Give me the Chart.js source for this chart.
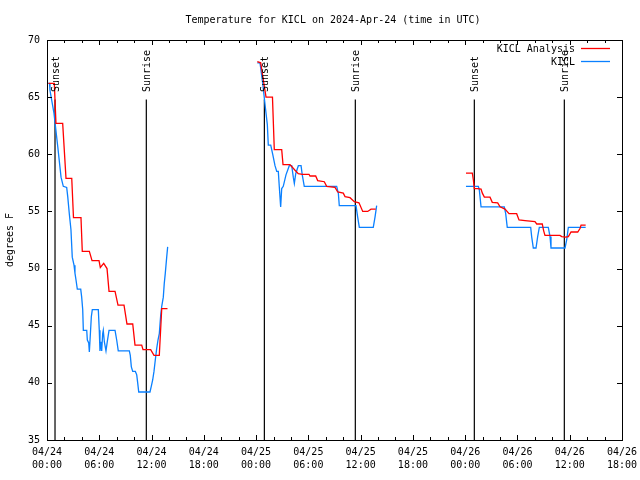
<!DOCTYPE html>
<html lang="en">
<head>
<meta charset="UTF-8" />
<title>KICL temperature</title>
<script src="https://cdn.jsdelivr.net/npm/chart.js@4.4.1/dist/chart.umd.min.js"></script>
<style>
  html, body { margin: 0; padding: 0; background: #fff; }
</style>
</head>
<body>
<canvas id="tempChart" width="640" height="480"></canvas>
<script>
// hours since 04/24 00:00 UTC, null = gap between days
const analysisHours = [
  0.17, 0.84, 1.03, 1.80, 2.18, 2.84, 3.04, 3.90, 4.05, 4.86, 5.17, 5.97, 6.12, 6.51, 6.89,
  7.12, 7.81, 8.15, 8.84, 9.18, 9.84, 10.10, 10.87, 11.02, 11.90, 12.28, 12.89, 13.17, 13.83,
  null,
  24.14, 24.53, 24.79, 25.14, 25.88, 26.09, 26.94, 27.09, 27.89, 28.47, 28.84, 29.30, 30.07, 30.19, 30.84,
  31.07, 31.83, 32.10, 33.06, 33.37, 34.01, 34.21, 34.78, 35.27, 35.81, 36.24, 36.81, 37.19, 37.73,
  null,
  48.09, 48.82, 48.94, 49.05, 49.44, 49.82, 49.97, 50.20, 50.85, 51.11, 51.73, 52.00, 52.57, 53.03, 53.91,
  54.18, 54.87, 56.01, 56.21, 56.85, 57.01, 57.16, 58.88, 59.08, 59.54, 59.84, 60.15, 60.92, 61.18, 61.30, 61.83
];
const analysisTemps = [
  66.2, 66.2, 62.7, 62.7, 57.9, 57.9, 54.45, 54.45, 51.5, 51.5, 50.7, 50.7, 50.1, 50.45, 50.0,
  48.0, 48.0, 46.8, 46.8, 45.15, 45.15, 43.3, 43.3, 42.9, 42.9, 42.4, 42.4, 46.5, 46.5,
  null,
  68.1, 68.0, 66.7, 65.0, 65.0, 60.4, 60.4, 59.1, 59.1, 58.6, 58.3, 58.25, 58.25, 58.1, 58.1,
  57.7, 57.6, 57.2, 57.1, 56.7, 56.6, 56.3, 56.2, 55.85, 55.75, 55.0, 55.0, 55.2, 55.2,
  null,
  58.35, 58.35, 57.75, 57.0, 57.0, 56.95, 56.6, 56.25, 56.25, 55.8, 55.75, 55.4, 55.2, 54.8, 54.8,
  54.25, 54.2, 54.1, 53.9, 53.9, 53.3, 52.9, 52.9, 52.8, 52.75, 52.8, 53.2, 53.2, 53.5, 53.8, 53.8
];

const obsHours = [
  0.15, 0.29, 0.34, 0.80, 1.23, 1.61, 1.87, 2.26, 2.38, 2.56, 2.75, 2.90, 3.10, 3.21, 3.33, 3.48,
  3.87, 3.98, 4.10, 4.17, 4.56, 4.63, 4.79, 4.86, 4.94, 5.09, 5.20, 5.89, 6.00, 6.08, 6.20, 6.28,
  6.39, 6.46, 6.58, 6.77, 6.92, 7.12, 7.81, 8.00, 8.18, 9.45, 9.56, 9.68, 9.84, 10.14, 10.30, 10.41,
  10.53, 11.82, 11.97, 12.13, 12.28, 12.43, 12.59, 12.74, 12.89, 13.05, 13.17, 13.35, 13.46, 13.58, 13.74, 13.85,
  null,
  24.14, 24.45, 24.76, 25.02, 25.29, 25.40, 25.68, 25.91, 26.17, 26.37, 26.55, 26.66, 26.82, 26.94, 27.12,
  27.43, 27.81, 28.09, 28.27, 28.39, 28.55, 28.85, 29.16, 29.30, 29.53, 33.25, 33.44, 33.55, 35.47, 35.66,
  35.85, 37.45, 37.65, 37.84,
  null,
  48.09, 49.51, 49.62, 49.82, 52.49, 52.65, 52.83, 55.52, 55.63, 55.82, 56.13, 56.32, 56.51, 57.54, 57.74,
  57.85, 59.46, 59.65, 59.84, 61.83
];
const obsTemps = [
  66.2, 66.2, 65.6, 63.6, 60.7, 58.0, 57.2, 57.1, 56.3, 54.8, 53.4, 51.0, 50.3, 49.6, 49.0, 48.2,
  48.2, 47.5, 46.4, 44.6, 44.6, 43.75, 43.5, 42.7, 43.75, 45.8, 46.4, 46.4, 44.6, 42.8, 43.6, 42.8,
  44.3, 44.6, 43.6, 42.8, 43.6, 44.6, 44.6, 43.75, 42.8, 42.8, 42.4, 41.4, 41.0, 41.0, 40.7, 40.0,
  39.2, 39.2, 39.7, 40.25, 41.0, 42.0, 43.0, 43.75, 44.3, 45.9, 46.7, 47.5, 48.7, 49.6, 51.0, 51.9,
  null,
  68.0, 68.0, 66.2, 64.4, 62.6, 60.8, 60.8, 60.0, 59.0, 58.5, 58.5, 57.2, 55.4, 57.0, 57.2,
  58.2, 59.0, 59.0, 58.0, 57.45, 58.3, 59.0, 59.0, 58.2, 57.2, 57.2, 56.6, 55.5, 55.5, 54.5,
  53.6, 53.6, 54.5, 55.5,
  null,
  57.2, 57.2, 56.9, 55.4, 55.4, 54.8, 53.6, 53.6, 52.8, 51.8, 51.8, 52.8, 53.6, 53.6, 52.8,
  51.8, 51.8, 52.5, 53.6, 53.6
];

const sunHours = [0.92, 11.40, 24.95, 35.39, 49.05, 59.38];
const sunLabels = ['Sunset', 'Sunrise', 'Sunset', 'Sunrise', 'Sunset', 'Sunrise'];
const sunLineTop = 64.8;

const FONT = '10px "DejaVu Sans Mono"';

function toPoints(hours, temps) {
  return hours.map((h, i) => ({ x: h, y: temps[i] }));
}

const sunPoints = [];
sunHours.forEach(h => {
  sunPoints.push({ x: h, y: 35 }, { x: h, y: sunLineTop }, { x: null, y: null });
});

const gnuplotLook = {
  id: 'gnuplotLook',
  afterDatasetsDraw(chart) {
    const ctx = chart.ctx, xs = chart.scales.x;
    ctx.save();
    ctx.fillStyle = '#000';
    ctx.font = FONT;
    ctx.textAlign = 'left';
    ctx.textBaseline = 'middle';
    sunHours.forEach((h, i) => {
      ctx.save();
      ctx.translate(Math.round(xs.getPixelForValue(h)) + 1.5, 92);
      ctx.rotate(-Math.PI / 2);
      ctx.fillText(sunLabels[i], 0, 0);
      ctx.restore();
    });
    ctx.restore();
  },
  afterDraw(chart) {
    const ctx = chart.ctx, a = chart.chartArea;
    const xs = chart.scales.x, ys = chart.scales.y;
    ctx.save();
    ctx.strokeStyle = '#000';
    ctx.lineWidth = 1;
    ctx.strokeRect(a.left + 0.5, a.top + 0.5, a.right - a.left, a.bottom - a.top);

    ctx.beginPath();
    for (let h = 0; h <= 66; h += 2) {
      const px = Math.round(xs.getPixelForValue(h)) + 0.5;
      const len = h % 6 === 0 ? 5 : 3;
      ctx.moveTo(px, a.bottom); ctx.lineTo(px, a.bottom - len);
      ctx.moveTo(px, a.top); ctx.lineTo(px, a.top + len);
    }
    for (let v = 35; v <= 70; v += 5) {
      const py = Math.round(ys.getPixelForValue(v)) + 0.5;
      ctx.moveTo(a.left, py); ctx.lineTo(a.left + 5, py);
      ctx.moveTo(a.right, py); ctx.lineTo(a.right - 5, py);
    }
    ctx.stroke();

    ctx.fillStyle = '#000';
    ctx.font = FONT;
    ctx.textAlign = 'center';
    ctx.textBaseline = 'middle';
    ctx.fillText('Temperature for KICL on 2024-Apr-24 (time in UTC)', 333, 20);

    ctx.save();
    ctx.translate(10, 240);
    ctx.rotate(-Math.PI / 2);
    ctx.fillText('degrees F', 0, 0);
    ctx.restore();

    // legend
    const items = [['KICL Analysis', '#ff0000', 49], ['KICL', '#0a80ff', 62]];
    ctx.textAlign = 'right';
    items.forEach(([txt, col, y]) => {
      ctx.fillStyle = '#000';
      ctx.fillText(txt, 575, y);
      ctx.strokeStyle = col;
      ctx.lineWidth = 1.3;
      ctx.beginPath();
      ctx.moveTo(581, y - 0.5);
      ctx.lineTo(610, y - 0.5);
      ctx.stroke();
    });
    ctx.restore();
  }
};

new Chart(document.getElementById('tempChart'), {
  type: 'line',
  data: {
    datasets: [
      { label: 'KICL Analysis', data: toPoints(analysisHours, analysisTemps), borderColor: '#ff0000',
        borderWidth: 1.3, pointRadius: 0, tension: 0, spanGaps: false, order: 1 },
      { label: 'KICL', data: toPoints(obsHours, obsTemps), borderColor: '#0a80ff',
        borderWidth: 1.3, pointRadius: 0, tension: 0, spanGaps: false, order: 2 },
      { label: 'sun', data: sunPoints, borderColor: '#000', borderWidth: 1.2,
        pointRadius: 0, spanGaps: false, order: 3 }
    ]
  },
  options: {
    responsive: false,
    animation: false,
    layout: { padding: { top: 40, right: 18, left: 0, bottom: 0 } },
    plugins: { legend: { display: false }, tooltip: { enabled: false } },
    scales: {
      x: {
        type: 'linear', min: 0, max: 66,
        grid: { display: false, drawTicks: false },
        border: { display: false },
        afterFit(s) { s.height = 40; s.paddingLeft = 0; s.paddingRight = 0; },
        ticks: {
          stepSize: 6, autoSkip: false, maxRotation: 0, padding: 6, color: '#000',
          font: { family: 'DejaVu Sans Mono', size: 10, lineHeight: 1.3 },
          callback(v) {
            const day = 24 + Math.floor(v / 24);
            const hh = String(v % 24).padStart(2, '0');
            return ['04/' + day, hh + ':00'];
          }
        }
      },
      y: {
        min: 35, max: 70,
        grid: { display: false, drawTicks: false },
        border: { display: false },
        afterFit(s) { s.width = 47; s.paddingTop = 0; s.paddingBottom = 0; },
        ticks: { stepSize: 5, padding: 7, color: '#000',
          font: { family: 'DejaVu Sans Mono', size: 10 } }
      }
    }
  },
  plugins: [gnuplotLook]
});
</script>
</body>
</html>
